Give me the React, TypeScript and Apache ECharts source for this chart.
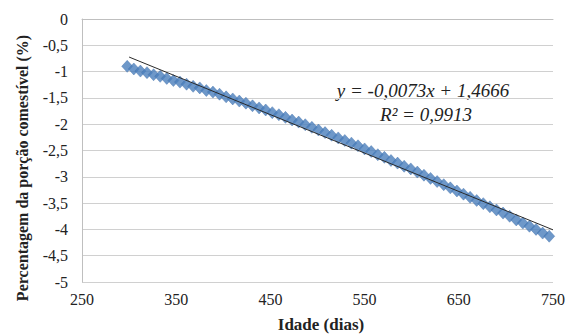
import React, { useEffect, useRef } from "react";
import * as echarts from "echarts";

const days = [
  298, 305, 312, 319, 326, 333, 340, 347, 354, 361,
  368, 375, 382, 389, 396, 403, 410, 417, 424, 431,
  438, 445, 452, 459, 466, 473, 480, 487, 494, 501,
  508, 515, 522, 529, 536, 543, 550, 557, 564, 571,
  578, 585, 592, 599, 606, 613, 620, 627, 634, 641,
  648, 655, 662, 669, 676, 683, 690, 697, 704, 711,
  718, 725, 732, 739, 746,
];
const values = [
  -0.90, -0.95, -0.99, -1.02, -1.06, -1.09, -1.13, -1.17, -1.20, -1.24,
  -1.28, -1.31, -1.36, -1.39, -1.43, -1.48, -1.52, -1.56, -1.60, -1.65,
  -1.69, -1.73, -1.78, -1.82, -1.87, -1.92, -1.96, -2.01, -2.06, -2.11,
  -2.16, -2.21, -2.26, -2.31, -2.36, -2.41, -2.47, -2.52, -2.58, -2.63,
  -2.69, -2.74, -2.80, -2.85, -2.91, -2.97, -3.03, -3.09, -3.15, -3.21,
  -3.27, -3.33, -3.39, -3.45, -3.51, -3.57, -3.63, -3.69, -3.75, -3.82,
  -3.88, -3.94, -4.00, -4.07, -4.13,
];
const trendSlope = -0.0073;
const trendIntercept = 1.4666;
const trendRange = [300, 750];
const equationText = "y = -0,0073x + 1,4666";
const r2Text = "R² = 0,9913";
const xTitle = "Idade (dias)";
const yTitle = "Percentagem da porção comestível (%)";

const SERIF = "Liberation Serif";

export default function App() {
  const ref = useRef<HTMLDivElement>(null);
  useEffect(() => {
    if (!ref.current) return;
    const chart = echarts.init(ref.current, null, { renderer: "svg" });
    const scatterData = days.map((d, i) => [d, values[i]]);
    const trendData = trendRange.map((x) => [x, trendSlope * x + trendIntercept]);
    chart.setOption({
      animation: false,
      backgroundColor: "#ffffff",
      textStyle: { fontFamily: SERIF },
      grid: { left: 82, top: 19, right: 5, bottom: 53, containLabel: false },
      xAxis: {
        type: "value",
        min: 250,
        max: 750,
        interval: 100,
        axisLine: { show: true, lineStyle: { color: "#bfbfbf", width: 1 } },
        axisTick: { show: false },
        splitLine: { show: false },
        axisLabel: { color: "#222", fontFamily: SERIF, fontSize: 16, margin: 9 },
      },
      yAxis: {
        type: "value",
        min: -5,
        max: 0,
        interval: 0.5,
        axisLine: { show: true, lineStyle: { color: "#bfbfbf", width: 1 } },
        axisTick: { show: false },
        splitLine: { show: true, lineStyle: { color: "#d0d0d0", width: 1 } },
        axisLabel: {
          color: "#222",
          fontFamily: SERIF,
          fontSize: 16,
          margin: 14,
          formatter: (v: number) => String(v).replace(".", ","),
        },
      },
      series: [
        {
          type: "scatter",
          data: scatterData,
          symbol: "diamond",
          symbolSize: [11, 12],
          itemStyle: { color: "#4a7ebb", borderColor: "#3f6fab", borderWidth: 0.5 },
          z: 2,
        },
        {
          type: "line",
          data: trendData,
          symbol: "none",
          lineStyle: { color: "#2a2a2a", width: 1 },
          z: 3,
        },
      ],
      graphic: [
        {
          type: "text",
          x: 423,
          y: 90,
          style: {
            text: equationText,
            fontFamily: SERIF,
            fontStyle: "italic",
            fontSize: 19,
            fill: "#222",
            align: "center",
            verticalAlign: "middle",
          },
        },
        {
          type: "text",
          x: 426,
          y: 114,
          style: {
            text: r2Text,
            fontFamily: SERIF,
            fontStyle: "italic",
            fontSize: 19,
            fill: "#222",
            align: "center",
            verticalAlign: "middle",
          },
        },
        {
          type: "text",
          x: 321,
          y: 324,
          style: {
            text: xTitle,
            fontFamily: SERIF,
            fontWeight: "bold",
            fontSize: 17,
            fill: "#222",
            align: "center",
            verticalAlign: "middle",
          },
        },
        {
          type: "text",
          x: 22,
          y: 168,
          rotation: Math.PI / 2,
          style: {
            text: yTitle,
            fontFamily: SERIF,
            fontWeight: "bold",
            fontSize: 16,
            fill: "#222",
            align: "center",
            verticalAlign: "middle",
          },
        },
      ],
    });
    return () => chart.dispose();
  }, []);
  return (
    <div
      ref={ref}
      style={{ position: "fixed", left: 0, top: 0, width: 568, height: 335 }}
    />
  );
}
